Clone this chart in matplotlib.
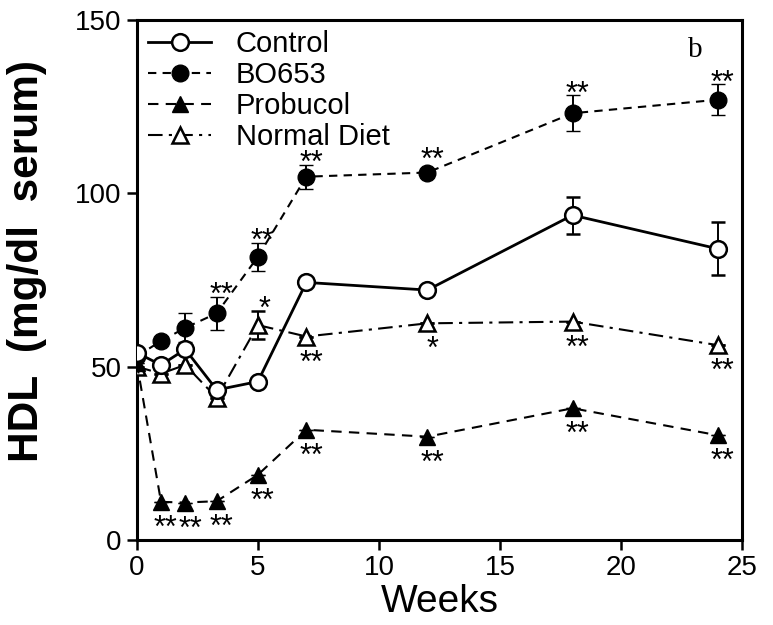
import matplotlib.pyplot as plt
from matplotlib.lines import Line2D

plt.rcParams['font.family'] = ['Liberation Sans', 'DejaVu Sans']

# Data (HDL, mg/dl serum)
weeks = [0, 1, 2, 3.3, 5, 7, 12, 18, 24]
control = [54, 50.5, 55, 43.3, 45.7, 74.3, 72.1, 93.7, 84]
control_err = [0, 0, 0, 0, 0, 0, 0, 5.3, 7.7]
bo653 = [53, 57.4, 61.2, 65.4, 81.7, 104.8, 106, 123.1, 127]
bo653_err = [0, 0, 4.2, 4.8, 4.1, 3.5, 0, 5.2, 4.4]
probucol = [51, 11, 10.8, 11.2, 18.8, 31.8, 29.8, 38, 30.2]
probucol_err = [0] * 9
normal = [50, 48, 50.5, 41, 62, 58.7, 62.5, 63, 56.2]
normal_err = [0, 0, 0, 0, 4, 0, 0, 0, 0]

# significance marks: (index, text)
bo653_stars = [(3, '**'), (4, '**'), (5, '**'), (6, '**'), (7, '**'), (8, '**')]
normal_stars_above = [(4, '*')]
normal_stars_below = [(5, '**'), (6, '*'), (7, '**'), (8, '**')]
probucol_stars = [(1, '**'), (2, '**'), (3, '**'), (4, '**'), (5, '**'), (6, '**'), (7, '**'), (8, '**')]

fig = plt.figure(figsize=(7.73, 6.25), dpi=100)
ax = fig.add_axes([0.177, 0.136, 0.783, 0.832])

styles = {
    'Control': dict(ls='-', lw=2, marker='o', ms=12, mfc='white', mew=1.8),
    'BO653': dict(ls=(0, (4, 3)), lw=1.5, marker='o', ms=12, mfc='black', mew=1),
    'Probucol': dict(ls=(0, (5, 3.5)), lw=1.5, marker='^', ms=11, mfc='black', mew=1),
    'Normal Diet': dict(ls=(0, (7, 3, 1.5, 3)), lw=1.5, marker='^', ms=11, mfc='white', mew=1.8),
}
series = [('Normal Diet', normal, normal_err, 3), ('Probucol', probucol, probucol_err, 3),
          ('BO653', bo653, bo653_err, 4), ('Control', control, control_err, 5)]

for name, vals, err, z in series:
    st = styles[name]
    ax.errorbar(weeks, vals, yerr=err, color='black', ls=st['ls'], lw=st['lw'],
                marker=st['marker'], ms=st['ms'], mfc=st['mfc'], mec='black', mew=st['mew'],
                capsize=5, elinewidth=1.4, capthick=1.4, zorder=z)

star_fs = 22
star_mid = 0.44 * star_fs  # height of the asterisk ink above the baseline, points


def stars(marks, vals, err, above, dx=3.5):
    for i, s in marks:
        if above:
            y = vals[i] + err[i]
            off = 4.5 if err[i] > 0 else 12.5
        else:
            y = vals[i]
            off = -15.5
        ax.annotate(s, (weeks[i], y), xytext=(dx, off - star_mid), textcoords='offset points',
                    ha='center', va='baseline', fontsize=star_fs)


stars(bo653_stars, bo653, bo653_err, True)
stars(normal_stars_above, normal, normal_err, True, dx=4.5)
stars(normal_stars_below, normal, normal_err, False)
stars(probucol_stars, probucol, probucol_err, False)

ax.text(23.05, 139.3, 'b', fontsize=21, family='Liberation Serif', ha='center', va='baseline')

ax.set_xlim(0, 25)
ax.set_ylim(0, 150)
ax.set_xticks([0, 5, 10, 15, 20, 25])
ax.set_yticks([0, 50, 100, 150])
ax.tick_params(direction='out', length=7, width=1.8, labelsize=20, pad=4)
for sp in ax.spines.values():
    sp.set_linewidth(2.2)
ax.set_xlabel('Weeks', fontsize=28, labelpad=2)
ax.set_ylabel('HDL  (mg/dl  serum)', fontsize=30.5, fontweight='bold', labelpad=20)
ax.yaxis.label.set_y(0.537)

names = ['Control', 'BO653', 'Probucol', 'Normal Diet']
handles = [Line2D([], [], color='black', ls=styles[n]['ls'], lw=styles[n]['lw'],
                  marker=styles[n]['marker'], ms=styles[n]['ms'], mfc=styles[n]['mfc'],
                  mec='black', mew=styles[n]['mew']) for n in names]
ax.legend(handles, names, loc='upper left', frameon=False, fontsize=21, handlelength=2.15,
          handletextpad=0.85, labelspacing=0.1, borderaxespad=0.0, bbox_to_anchor=(0.0, 1.003))

fig.savefig('out.png', dpi=100)
